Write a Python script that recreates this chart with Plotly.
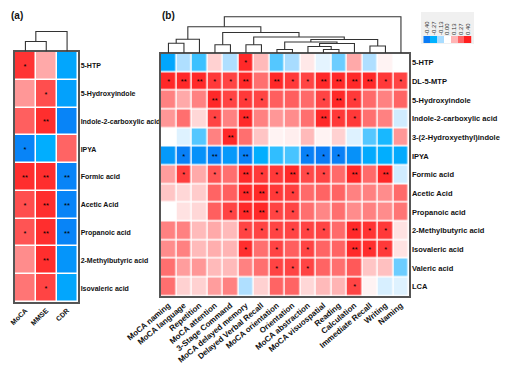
import plotly.graph_objects as go

W, H = 512, 366
OFF = 8  # page body margin in the browser

# ---------------- data ----------------
a_cols = ["MoCA", "MMSE", "CDR"]
a_rows = ["5-HTP", "5-Hydroxyindole", "Indole-2-carboxylic acid", "IPYA", "Formic acid",
          "Acetic Acid", "Propanoic acid", "2-Methylbutyric acid", "Isovaleric acid"]
a_vals = [
    [0.36, 0.15, -0.30],
    [0.18, 0.31, -0.31],
    [0.28, 0.37, -0.38],
    [-0.38, -0.28, 0.27],
    [0.37, 0.37, -0.38],
    [0.31, 0.37, -0.38],
    [0.30, 0.37, -0.38],
    [0.20, 0.37, -0.34],
    [0.24, 0.33, -0.30],
]
a_sig = [
    ["*", "", ""],
    ["", "*", ""],
    ["", "**", ""],
    ["*", "", ""],
    ["**", "**", "**"],
    ["*", "**", "**"],
    ["*", "**", "**"],
    ["", "**", ""],
    ["", "*", ""],
]
# dendrogram (a): (left node, right node, height)
a_links = [(0, 1, 10.0), (3, 2, 20.0)]

b_cols = ["MoCA naming", "MoCA language", "Repetition", "MoCA attention", "3-Stage Command",
          "MoCA delayed memory", "Delayed Verbal Recall", "MoCA orientation", "Orientation",
          "MoCA abstraction", "MoCA visuospatial", "Reading", "Calculation", "Immediate Recall",
          "Writing", "Naming"]
b_rows = ["5-HTP", "DL-5-MTP", "5-Hydroxyindole", "Indole-2-carboxylic acid",
          "3-(2-Hydroxyethyl)indole", "IPYA", "Formic acid", "Acetic Acid", "Propanoic acid",
          "2-Methylbutyric acid", "Isovaleric acid", "Valeric acid", "LCA"]
b_vals = [
    [-0.30, -0.12, -0.22, 0.08, -0.12, 0.38, 0.12, -0.20, -0.13, 0.04, -0.04, -0.18, 0.15, -0.12, 0.02, 0.00],
    [0.38, 0.38, 0.38, 0.35, 0.33, 0.38, 0.25, 0.38, 0.35, 0.33, 0.38, 0.38, 0.38, 0.38, 0.35, 0.33],
    [0.22, 0.15, 0.22, 0.38, 0.33, 0.35, 0.33, 0.28, 0.28, 0.26, 0.33, 0.38, 0.35, 0.26, 0.22, 0.27],
    [0.18, 0.25, 0.07, 0.33, 0.22, 0.38, 0.22, 0.18, 0.20, 0.25, 0.38, 0.35, 0.35, 0.25, 0.22, -0.07],
    [0.00, -0.05, -0.20, 0.22, 0.38, 0.25, 0.10, 0.02, 0.03, 0.12, 0.02, 0.08, -0.05, -0.20, -0.25, 0.18],
    [-0.33, -0.39, -0.35, -0.39, -0.33, -0.39, -0.28, -0.23, -0.21, -0.39, -0.40, -0.39, -0.35, -0.29, -0.28, -0.29],
    [0.17, 0.34, 0.15, 0.30, 0.25, 0.38, 0.35, 0.35, 0.38, 0.32, 0.33, 0.26, 0.38, 0.26, 0.38, -0.07],
    [0.10, 0.07, 0.09, 0.27, 0.28, 0.38, 0.38, 0.35, 0.34, 0.26, 0.27, 0.27, 0.22, 0.22, 0.20, 0.26],
    [0.00, 0.05, 0.07, 0.28, 0.33, 0.38, 0.38, 0.33, 0.33, 0.25, 0.21, 0.25, 0.20, 0.22, 0.20, 0.24],
    [0.22, 0.22, 0.12, 0.15, 0.12, 0.33, 0.33, 0.33, 0.33, 0.33, 0.33, 0.26, 0.38, 0.36, 0.35, 0.05],
    [0.20, 0.22, 0.12, 0.14, 0.13, 0.37, 0.25, 0.33, 0.28, 0.33, 0.27, 0.27, 0.38, 0.37, 0.35, 0.05],
    [0.25, 0.17, 0.18, 0.12, 0.12, 0.22, 0.25, 0.33, 0.33, 0.33, 0.27, 0.25, 0.29, 0.10, 0.11, -0.18],
    [0.25, 0.08, 0.08, 0.17, 0.22, -0.12, 0.08, 0.27, 0.27, 0.07, 0.12, 0.13, 0.33, 0.02, -0.06, -0.05],
]
b_sig = [
    ["", "", "", "", "", "*", "", "", "", "", "", "", "", "", "", ""],
    ["*", "**", "**", "*", "*", "**", "", "**", "*", "*", "**", "**", "**", "**", "*", "*"],
    ["", "", "", "**", "*", "*", "*", "", "", "", "*", "**", "*", "", "", ""],
    ["", "", "", "*", "", "**", "", "", "", "", "**", "*", "*", "", "", ""],
    ["", "", "", "", "**", "", "", "", "", "", "", "", "", "", "", ""],
    ["", "*", "", "**", "", "**", "", "", "", "*", "*", "*", "", "", "", ""],
    ["", "*", "", "*", "", "**", "*", "*", "**", "*", "*", "", "**", "", "**", ""],
    ["", "", "", "", "", "**", "**", "*", "*", "", "", "", "", "", "", ""],
    ["", "", "", "", "*", "**", "**", "*", "*", "", "", "", "", "", "", ""],
    ["", "", "", "", "", "*", "*", "*", "*", "*", "*", "", "**", "*", "*", ""],
    ["", "", "", "", "", "*", "", "*", "", "*", "", "", "**", "*", "*", ""],
    ["", "", "", "", "", "", "", "*", "*", "*", "", "", "", "", "", ""],
    ["", "", "", "", "", "", "", "", "", "", "", "", "*", "", "", ""],
]
# dendrogram (b): (left node, right node, height); leaves 0..15, internal nodes 16..
b_links = [
    (0, 1, 9.8),     # 16
    (16, 2, 13.8),   # 17
    (3, 4, 8.2),     # 18
    (5, 6, 8.2),     # 19
    (7, 8, 3.5),     # 20
    (10, 11, 3.5),   # 21
    (9, 21, 6.5),    # 22
    (22, 12, 9.5),   # 23
    (20, 23, 11.0),  # 24
    (13, 14, 7.0),   # 25
    (24, 25, 13.5),  # 26
    (19, 26, 16.0),  # 27
    (18, 27, 20.5),  # 28
    (17, 28, 26.2),  # 29
    (29, 15, 36.2),  # 30
]

legend_vals = [-0.40, -0.27, -0.13, 0.00, 0.13, 0.27, 0.40]
legend_labels = ["-0.40", "-0.27", "-0.13", "0.00", "0.13", "0.27", "0.40"]

colorscale = [
    [0.0, "#0a7cf5"],
    [0.1625, "#00b2ff"],
    [0.3375, "#a8dcff"],
    [0.5, "#ffffff"],
    [0.6625, "#ffb4b4"],
    [0.8375, "#ff6464"],
    [1.0, "#ff1e1e"],
]

FONT = "Liberation Sans"


def px_x(x):
    return (x - OFF) / W


def px_y(y):
    return 1 - (y - OFF) / H


def ydom(top, bottom):
    return [px_y(bottom), px_y(top)]


def dendro_lines(n_leaves, links):
    pos = {i: float(i) for i in range(n_leaves)}
    hgt = {i: 0.0 for i in range(n_leaves)}
    xs, ys = [], []
    for k, (l, r, h) in enumerate(links):
        node = n_leaves + k
        xs += [pos[l], pos[l], pos[r], pos[r], None]
        ys += [hgt[l], h, h, hgt[r], None]
        pos[node] = (pos[l] + pos[r]) / 2
        hgt[node] = h
    return xs, ys


fig = go.Figure()

# heatmap (a)
fig.add_trace(go.Heatmap(
    z=a_vals, x=list(range(len(a_cols))), y=list(range(len(a_rows))),
    text=a_sig, texttemplate="%{text}", textfont=dict(size=7.5, color="black", family=FONT),
    colorscale=colorscale, zmin=-0.4, zmax=0.4, showscale=False,
    xgap=1.5, ygap=1.5, hoverinfo="skip", xaxis="x", yaxis="y"))

# heatmap (b)
fig.add_trace(go.Heatmap(
    z=b_vals, x=list(range(len(b_cols))), y=list(range(len(b_rows))),
    text=b_sig, texttemplate="%{text}", textfont=dict(size=7.5, color="black", family=FONT),
    colorscale=colorscale, zmin=-0.4, zmax=0.4, showscale=False,
    xgap=1.5, ygap=1.5, hoverinfo="skip", xaxis="x2", yaxis="y2"))

# dendrograms
dx, dy = dendro_lines(len(a_cols), a_links)
fig.add_trace(go.Scatter(x=dx, y=dy, mode="lines", line=dict(color="#333333", width=1.1),
                         hoverinfo="skip", showlegend=False, xaxis="x3", yaxis="y3"))
dx, dy = dendro_lines(len(b_cols), b_links)
fig.add_trace(go.Scatter(x=dx, y=dy, mode="lines", line=dict(color="#333333", width=1.1),
                         hoverinfo="skip", showlegend=False, xaxis="x4", yaxis="y4"))

# colour key
fig.add_trace(go.Heatmap(
    z=[legend_vals], x=list(range(len(legend_vals))), y=[0],
    colorscale=colorscale, zmin=-0.4, zmax=0.4, showscale=False,
    hoverinfo="skip", xaxis="x5", yaxis="y5"))

frame = dict(showline=True, mirror=True, linecolor="#555555", linewidth=1.5,
             showgrid=False, zeroline=False, ticks="", automargin=False)
hidden = dict(visible=False, showgrid=False, zeroline=False, automargin=False)

ax_a = (15, 77.5)
ay_a = (52, 302)
ax_b = (160.7, 408.7)
ay_b = (53.5, 296)

fig.update_layout(
    template="none",
    width=W, height=H, margin=dict(l=0, r=0, t=0, b=0, autoexpand=False),
    paper_bgcolor="white", plot_bgcolor="white", showlegend=False,
    font=dict(family=FONT, color="#111111"),
    xaxis=dict(domain=[px_x(ax_a[0]), px_x(ax_a[1])], range=[-0.5, 2.5],
               tickvals=list(range(3)), ticktext=a_cols, tickangle=-45,
               tickfont=dict(size=7, family=FONT, weight="bold"), anchor="y", **frame),
    yaxis=dict(domain=ydom(*ay_a), range=[8.5, -0.5], side="right",
               tickvals=list(range(9)), ticktext=a_rows,
               tickfont=dict(size=7, family=FONT, weight="bold"), anchor="x", **frame),
    xaxis2=dict(domain=[px_x(ax_b[0]), px_x(ax_b[1])], range=[-0.5, 15.5],
                tickvals=list(range(16)), ticktext=b_cols, tickangle=-40,
                tickfont=dict(size=8, family=FONT, weight="bold"), anchor="y2", **frame),
    yaxis2=dict(domain=ydom(*ay_b), range=[12.5, -0.5], side="right",
                tickvals=list(range(13)), ticktext=b_rows,
                tickfont=dict(size=7.5, family=FONT, weight="bold"), anchor="x2", **frame),
    xaxis3=dict(domain=[px_x(ax_a[0]), px_x(ax_a[1])], range=[-0.5, 2.5], anchor="y3", **hidden),
    yaxis3=dict(domain=ydom(ay_a[0] - 23, ay_a[0] - 0.5), range=[0, 22.5], anchor="x3", **hidden),
    xaxis4=dict(domain=[px_x(ax_b[0]), px_x(ax_b[1])], range=[-0.5, 15.5], anchor="y4", **hidden),
    yaxis4=dict(domain=ydom(ay_b[0] - 38, ay_b[0] - 0.5), range=[0, 37.5], anchor="x4", **hidden),
    xaxis5=dict(domain=[px_x(423.3), px_x(471.7)], range=[-0.5, 6.5], side="top",
                tickvals=list(range(7)), ticktext=legend_labels, tickangle=-90,
                tickfont=dict(size=6, family=FONT, color="#333333"),
                showgrid=False, zeroline=False, ticks="", automargin=False, anchor="y5"),
    yaxis5=dict(domain=ydom(36, 43), range=[-0.5, 0.5], anchor="x5", **hidden),
    shapes=[dict(type="rect", xref="paper", yref="paper", layer="below",
                 x0=px_x(421), x1=px_x(474), y0=px_y(44), y1=px_y(12),
                 fillcolor="#f0f0f0", line=dict(width=0))],
    annotations=[
        dict(text="<b>(a)</b>", x=px_x(9), y=px_y(8), xref="paper", yref="paper",
             xanchor="left", yanchor="top", showarrow=False, font=dict(size=10, family=FONT)),
        dict(text="<b>(b)</b>", x=px_x(160), y=px_y(8), xref="paper", yref="paper",
             xanchor="left", yanchor="top", showarrow=False, font=dict(size=10, family=FONT)),
    ],
)

fig.write_html("out.html")
